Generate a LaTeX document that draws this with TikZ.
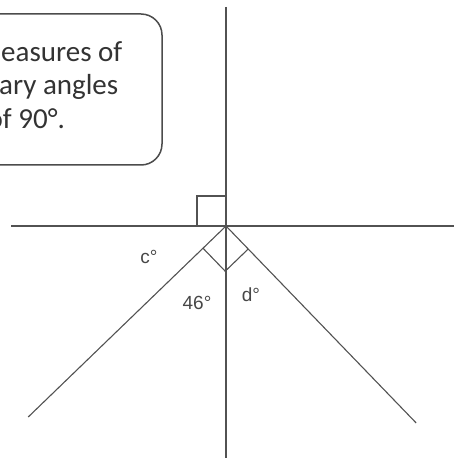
\documentclass[tikz,border=0pt]{standalone}
\usepackage{fontspec}
\setmainfont{Carlito}
\newfontfamily\labfont{Liberation Sans}
\begin{document}
\begin{tikzpicture}[x=1pt,y=-1pt,
  geo/.style={draw=black!68,line width=1.1pt},
  boxtext/.style={anchor=base west,inner sep=0pt,text=black!80,font=\fontsize{29}{33}\selectfont},
  anglab/.style={text=black!72,font=\labfont\fontsize{19}{22}\selectfont,inner sep=0pt}]
\clip (0,0) rectangle (454,462);
\useasboundingbox (0,0) rectangle (454,462);
% text box
\draw[draw=black!70,line width=1.5pt,rounded corners=21pt] (-60,14) rectangle (162,165);
\node[boxtext] (t1) at (1,62) {easures of};
\node[boxtext] (t2) at (-1,95) {ary angles};
\node[boxtext] (t3) at (-12.5,129) {of 90°.};
% main lines
\coordinate (O) at (226,226);
\coordinate (vtop) at (226,7);
\coordinate (vbot) at (226,458);
\coordinate (hl) at (11,226);
\coordinate (hr) at (454,226);
\draw[geo] (vtop) -- (vbot);
\draw[geo] (hl) -- (hr);
\path (O) ++(-197.8,191.0) coordinate (lray);
\path (O) ++(190.2,197.0) coordinate (rray);
\draw[geo] (O) -- (lray);
\draw[geo] (O) -- (rray);
% right angle marks
\coordinate (s1) at (197,226);
\coordinate (s2) at (197,196);
\coordinate (s3) at (226,196);
\draw[geo] (s1) -- (s2) -- (s3);
\coordinate (q1) at (203,248.2);
\coordinate (q2) at (225.2,271.2);
\coordinate (q3) at (248.2,249);
\draw[geo] (q1) -- (q2) -- (q3);
% labels
\node[anglab] (c) at (149,257) {c°};
\node[anglab] (a46) at (197,303) {46°};
\node[anglab] (d) at (251,295) {d°};
\end{tikzpicture}
\end{document}
